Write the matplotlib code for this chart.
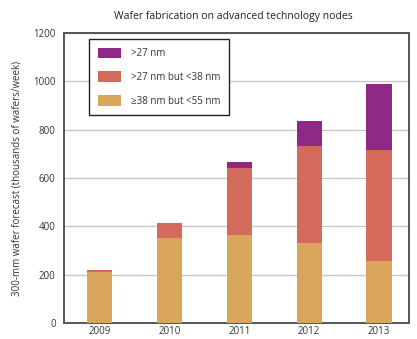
import numpy as np
import matplotlib
matplotlib.use("Agg")
import matplotlib.pyplot as plt

plt.rcParams['font.family'] = ['Open Sans', 'DejaVu Sans']

# thousands of 300-mm wafers per week, per node segment
years = ["2009", "2010", "2011", "2012", "2013"]
node_38_55 = [210, 351, 366, 331, 256]
node_27_38 = [10, 61, 274, 402, 461]
node_lt_27 = [0, 0, 28, 103, 274]

labels = [">27 nm", ">27 nm but <38 nm", "\u226538 nm but <55 nm"]
colors = ["#8E2A85", "#D36A5B", "#D9A55A"]

fig = plt.figure(figsize=(4.17, 3.39), dpi=100)
ax = fig.add_axes([64 / 417, 1 - 323 / 339, 345 / 417, 290 / 339])

x = np.arange(len(years))
w = 0.36
b1 = ax.bar(x, node_38_55, w, color=colors[2], label=labels[2], zorder=3)
b2 = ax.bar(x, node_27_38, w, bottom=node_38_55, color=colors[1], label=labels[1], zorder=3)
bottom3 = np.array(node_38_55) + np.array(node_27_38)
b3 = ax.bar(x, node_lt_27, w, bottom=bottom3, color=colors[0], label=labels[0], zorder=3)

ax.set_xlim(-0.51, 4.43)
ax.set_ylim(0, 1200)
ax.set_yticks(range(0, 1201, 200))
ax.set_xticks(x)
ax.set_xticklabels(years)
ax.tick_params(length=0, labelsize=7, colors="#333333")
ax.tick_params(axis="y", pad=6)
ax.tick_params(axis="x", pad=2)
ax.yaxis.grid(True, color="#c8c8c8", linewidth=1, zorder=0)

for s in ax.spines.values():
    s.set_color("#555555")
    s.set_linewidth(1.4)

ax.set_ylabel("300-mm wafer forecast (thousands of wafers/week)", fontsize=7,
              color="#333333", labelpad=8)
ax.set_title("Wafer fabrication on advanced technology nodes", fontsize=7.5,
             color="#222222", pad=10, x=0.49)

leg = ax.legend(handles=[b3, b2, b1], labels=labels, loc="upper left",
                bbox_to_anchor=(0.072, 0.98), fontsize=7, frameon=True,
                fancybox=False, edgecolor="#222222", framealpha=1,
                handlelength=2.4, handleheight=1.3, labelspacing=1.25,
                borderpad=0.9, handletextpad=1.0, borderaxespad=0)
leg.get_frame().set_linewidth(1.0)
for t in leg.get_texts():
    t.set_color("#333333")

fig.savefig("out.png", dpi=100)
